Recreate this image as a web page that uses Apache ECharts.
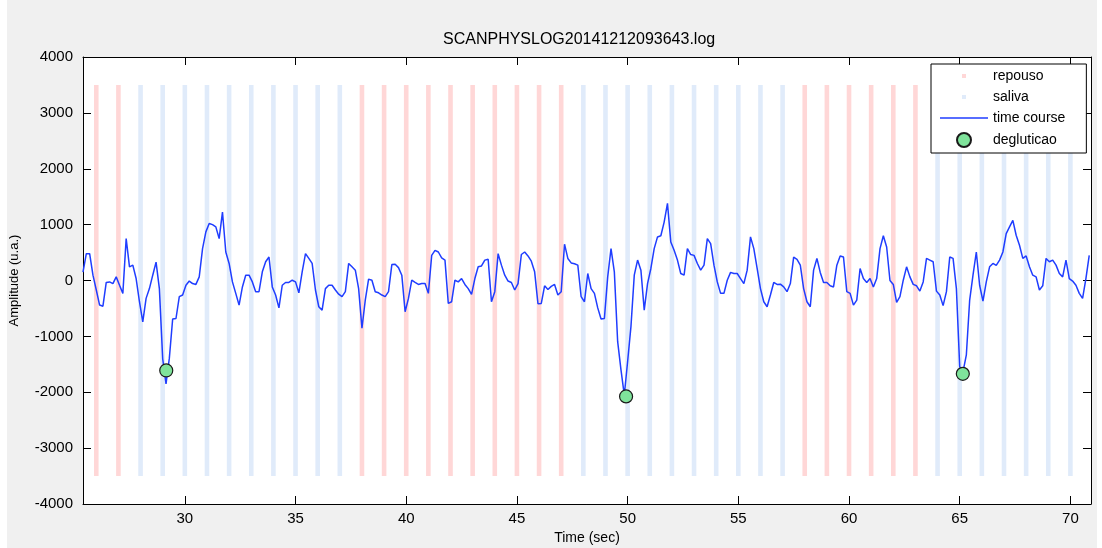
<!DOCTYPE html>
<html>
<head>
<meta charset="utf-8">
<title>SCANPHYSLOG20141212093643.log</title>
<script src="https://cdn.jsdelivr.net/npm/echarts@6/dist/echarts.min.js"></script>
<style>
html, body { margin: 0; padding: 0; background: #fff; }
#main { position: absolute; left: 7px; top: 0; width: 1090px; height: 548px; background: #f0f0f0; }
</style>
</head>
<body>
<div id="main"></div>
<script>
// blocos do protocolo (segundos)
var repousoTimes = [26, 27, 38, 39, 40, 41, 42, 43, 44, 45, 46, 47, 58, 59, 60, 61, 62, 63];
var salivaTimes = [28, 29, 30, 31, 32, 33, 34, 35, 36, 37, 48, 49, 50, 51, 52, 53, 54, 55, 56, 57, 64, 65, 66, 67, 68, 69, 70];
var blockRange = [-3500, 3500];

// time course: amostras a cada 0.15 s a partir de 25.4 s
var courseStart = 25.4;
var courseStep = 0.15;
var courseAmp = [
  150, 480, 480, 95, -170, -440, -460, -35, -25, -55,
  65, -85, -230, 750, 245, 275, 35, -380, -740, -320,
  -145, 95, 330, -145, -1400, -1850, -1390, -690, -680, -290,
  -260, -85, -10, -55, -70, 65, 570, 870, 1020, 1000,
  960, 750, 1225, 510, 305, -25, -230, -440, -115, 95,
  95, -25, -200, -200, 155, 335, 420, -115, -260, -490,
  -85,
  -35, -35, 5, -25, -220, 155, 480, 395, 305, -170,
  -470, -530, -145, -85, -85, -170, -245, -290, -200, 305,
  245, 185, -145, -855, -350, 25, 5, -200, -220, -260,
  -290, -200, 285, 290, 230, 95, -560, -320, 5, -35,
  -70, -55, -55, -230, 450, 540, 510, 405, 365, -410,
  -380, 5, -25, 35, -70, -145, -250, 35, 245, 260, 365,
  380, -380, -200, 480, 275, 95, -10, -35, -170, -55,
  465, 510, 440, 345, 155, -415, -410, -95, -160, -105,
  -70, -260, -200, 650, 395, 315, 300, 275, -290, -380,
  125, -145, -230, -490, -690, -680, 65, 570, 155, -1095,
  -1600, -2050, -1450, -825, 95, 365, 185, -530, -55, 215,
  570, 780, 800, 1045, 1380, 690, 540, 365, 125, 95, 570,
  465, 450, 305, 185, 275, 750, 660, 275, -25, -230,
  -230, 5, 145, 125, 125, 35, -55, 185, 780, 570,
  215, -145, -380, -470, -260, -35, -70, -65, -115, -200,
  -55, 420, 380, 275, -145, -380, -470, 185, 395, 145,
  -35, -35, -95, -115, 275, 440, 420, -200, -230, -440,
  -350, 215, 35, -35, 35, -115, 35, 570, 800, 600, 0,
  -70, -390, -290, 5, 245, 65, -70, -95, -190, -25,
  395, 365, 335, -190, -260, -450, -200, 420, 395, -145,
  -1540, -1630, -1330, -350, 95, 510, -85, -370, -25, 245,
  305, 270, 365, 510, 840, 960, 1075, 810, 630, 395,
  440, 245, 95, 65, -170, -95, 395, 335, 365, 275,
  125, 65, 365, 35, -10, -85, -230, -320, 35, 450
];

// degluticao
var degTime = [29.16, 49.93, 65.14];
var degAmp = [-1610, -2075, -1670];

// eixos
var xTicks = [30, 35, 40, 45, 50, 55, 60, 65, 70];
var xMin = 25.4, xMax = 70.93;
var yMin = -4000, yMax = 4000, yStep = 1000;

var FONT = '"Liberation Sans", Arial, sans-serif';
var LINE_COLOR = '#1f3dff';

var chart = echarts.init(document.getElementById('main'));

function blockSeries(name, times, color) {
  return {
    name: name,
    type: 'custom',
    data: times.map(function (t) { return [t]; }),
    itemStyle: { color: color },
    z: 1,
    renderItem: function (params, api) {
      var t = api.value(0);
      var p1 = api.coord([t, blockRange[1]]);
      var p2 = api.coord([t, blockRange[0]]);
      return {
        type: 'rect',
        shape: { x: p1[0] - 2.3, y: p1[1], width: 4.6, height: p2[1] - p1[1] },
        style: { fill: color }
      };
    }
  };
}

var courseData = courseAmp.map(function (v, i) {
  return [courseStart + i * courseStep, v];
});
var degData = degTime.map(function (t, i) { return [t, degAmp[i]]; });

var smallSquare = 'path://M0,0M14,14M5,5h4v4h-4z';
var lineIcon = 'path://M0,0M48,14M0,6.3h48v1.5h-48z';

var option = {
  animation: false,
  title: {
    text: 'SCANPHYSLOG20141212093643.log',
    left: 436,
    top: 32,
    padding: 0,
    textStyle: { fontFamily: FONT, fontSize: 16, fontWeight: 'normal', color: '#000' }
  },
  grid: {
    left: 76, right: 6, top: 57, bottom: 44,
    show: true, backgroundColor: '#fff', borderWidth: 0,
    outerBoundsMode: 'none'
  },
  legend: {
    orient: 'vertical',
    left: 924,
    top: 64,
    padding: [5, 21, 5, 9],
    backgroundColor: '#fff',
    borderColor: '#000',
    borderWidth: 1,
    borderRadius: 0,
    itemWidth: 48,
    itemHeight: 14,
    itemGap: 7,
    selectedMode: false,
    textStyle: { fontFamily: FONT, fontSize: 14, color: '#000' },
    data: [
      { name: 'repouso', icon: smallSquare },
      { name: 'saliva', icon: smallSquare },
      { name: 'time course', icon: lineIcon, itemStyle: { color: LINE_COLOR } },
      { name: 'degluticao', icon: 'circle' }
    ]
  },
  xAxis: [{
    type: 'value',
    position: 'bottom',
    min: xMin, max: xMax,
    name: 'Time (sec)',
    nameLocation: 'middle',
    nameGap: 26,
    nameTextStyle: { fontFamily: FONT, fontSize: 14, color: '#000' },
    axisLine: { onZero: false, lineStyle: { color: '#000', width: 1 } },
    axisTick: { inside: true, length: 8, customValues: xTicks, lineStyle: { color: '#000' } },
    axisLabel: { customValues: xTicks, margin: 7, fontFamily: FONT, fontSize: 15, color: '#000' },
    splitLine: { show: false }
  }, {
    type: 'value',
    position: 'top',
    min: xMin, max: xMax,
    axisLine: { onZero: false, lineStyle: { color: '#000', width: 1 } },
    axisTick: { inside: true, length: 8, customValues: xTicks, lineStyle: { color: '#000' } },
    axisLabel: { show: false },
    splitLine: { show: false }
  }],
  yAxis: [{
    type: 'value',
    position: 'left',
    min: yMin, max: yMax, interval: yStep,
    name: 'Amplitude (u.a.)',
    nameLocation: 'middle',
    nameGap: 62,
    nameTextStyle: { fontFamily: FONT, fontSize: 13, color: '#000' },
    axisLine: { show: true, onZero: false, lineStyle: { color: '#000', width: 1 } },
    axisTick: { show: true, inside: true, length: 8, lineStyle: { color: '#000' } },
    axisLabel: {
      margin: 10, fontFamily: FONT, fontSize: 15, color: '#000',
      formatter: function (v) { return String(v); }
    },
    splitLine: { show: false }
  }, {
    type: 'value',
    position: 'right',
    min: yMin, max: yMax, interval: yStep,
    axisLine: { show: true, onZero: false, lineStyle: { color: '#000', width: 1 } },
    axisTick: { show: true, inside: true, length: 8, lineStyle: { color: '#000' } },
    axisLabel: { show: false },
    splitLine: { show: false }
  }],
  series: [
    blockSeries('repouso', repousoTimes, '#ffd7d7'),
    blockSeries('saliva', salivaTimes, '#e0ebfa'),
    {
      name: 'time course',
      type: 'line',
      data: courseData,
      symbol: 'none',
      z: 3,
      lineStyle: { color: LINE_COLOR, width: 1.5 },
      itemStyle: { color: LINE_COLOR }
    },
    {
      name: 'degluticao',
      type: 'scatter',
      data: degData,
      symbolSize: 13,
      z: 4,
      itemStyle: { color: '#7fe39b', borderColor: '#1a1a1a', borderWidth: 1.2, opacity: 1 }
    }
  ]
};

chart.setOption(option);
</script>
</body>
</html>
